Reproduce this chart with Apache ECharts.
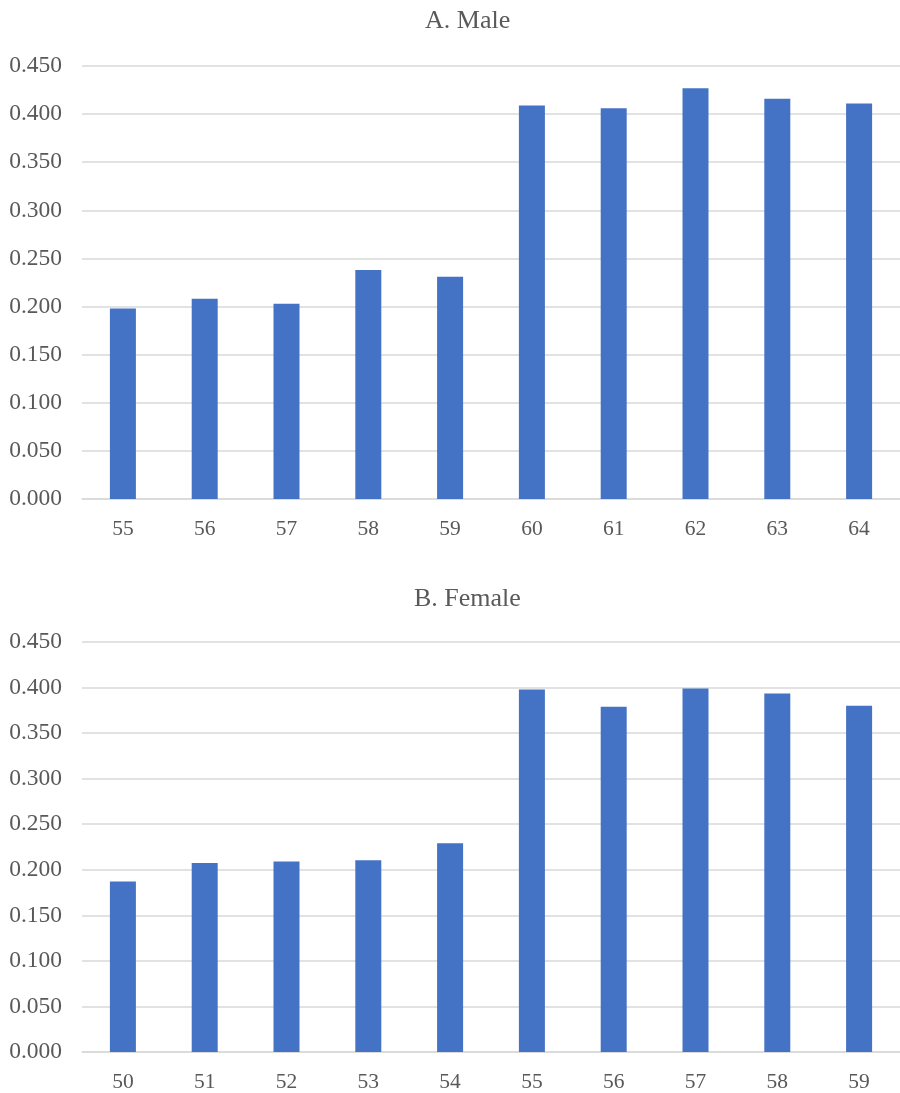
<!DOCTYPE html>
<html><head><meta charset="utf-8">
<script src="https://cdn.jsdelivr.net/npm/echarts@6/dist/echarts.min.js"></script>
<style>html,body{margin:0;padding:0;background:#fff}#c{width:900px;height:1093px}</style>
</head><body><div id="c"></div>
<script>
const maleAges = ['55','56','57','58','59','60','61','62','63','64'];
const maleValues = [0.198, 0.208, 0.203, 0.238, 0.231, 0.409, 0.406, 0.427, 0.416, 0.411];
const femaleAges = ['50','51','52','53','54','55','56','57','58','59'];
const femaleValues = [0.187, 0.2075, 0.209, 0.2105, 0.229, 0.398, 0.379, 0.399, 0.3935, 0.380];
const titles = ['A. Male', 'B. Female'];

const font = 'Liberation Serif, Times New Roman, serif';
const txt = '#595959';
const grid = '#d9d9d9';
function yAx(i){return {type:'value',gridIndex:i,min:0,max:0.45,interval:0.05,
  axisLabel:{formatter:v=>v.toFixed(3),color:txt,fontFamily:font,fontSize:23.5,margin:20},
  axisLine:{show:false},axisTick:{show:false},
  splitLine:{lineStyle:{color:grid,width:1.5}}};}
function xAx(i,d){return {type:'category',gridIndex:i,data:d,
  axisLabel:{color:txt,fontFamily:font,fontSize:21.5,margin:19},
  axisLine:{lineStyle:{color:grid,width:1.5}},axisTick:{show:false}};}
const chart = echarts.init(document.getElementById('c'),null,{renderer:'canvas'});
chart.setOption({
  animation:false,
  title:[
    {text:titles[0],left:420,top:3,textStyle:{color:txt,fontFamily:font,fontSize:26,fontWeight:'normal'}},
    {text:titles[1],left:409,top:581,textStyle:{color:txt,fontFamily:font,fontSize:26,fontWeight:'normal'}}
  ],
  grid:[
    {left:82,right:0,top:66,height:433},
    {left:82,right:0,top:642,height:411}
  ],
  xAxis:[xAx(0,maleAges),xAx(1,femaleAges)],
  yAxis:[yAx(0),yAx(1)],
  series:[
    {type:'bar',xAxisIndex:0,yAxisIndex:0,data:maleValues,barWidth:26,itemStyle:{color:'#4472C4'}},
    {type:'bar',xAxisIndex:1,yAxisIndex:1,data:femaleValues,barWidth:26,itemStyle:{color:'#4472C4'}}
  ]
});
</script></body></html>
